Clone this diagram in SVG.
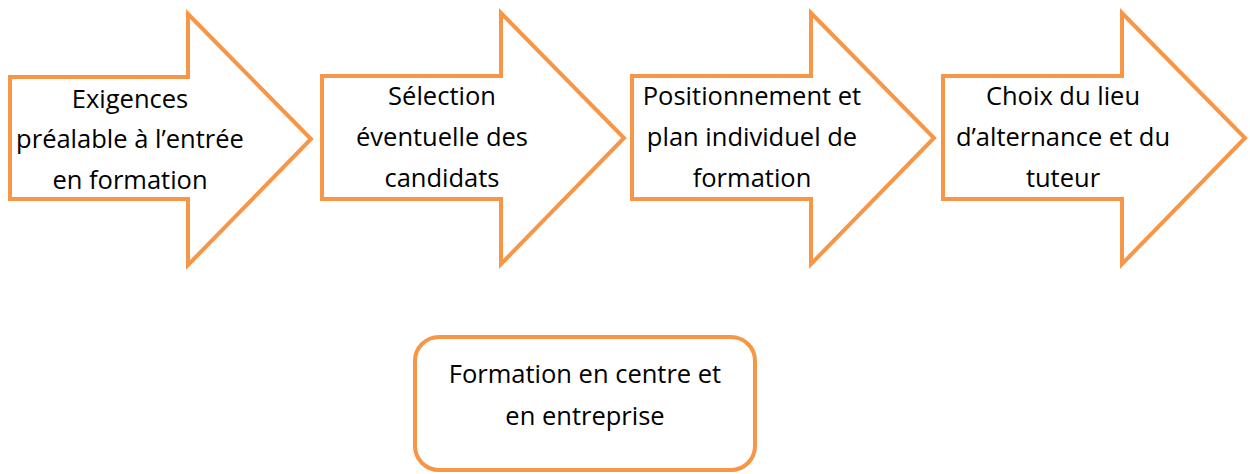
<svg xmlns="http://www.w3.org/2000/svg" width="1250" height="474" viewBox="0 0 1250 474">
<style>
.shape{fill:#ffffff;stroke:#F79646;stroke-width:4;stroke-linejoin:miter}
.t{font-family:"Open Sans","Liberation Sans",sans-serif;font-size:25.5px;fill:#000;text-anchor:middle}
</style>
<rect width="1250" height="474" fill="#ffffff"/>
<g id="connectors"></g>
<g id="n1">
<path class="shape" d="M10,77 H188 V14 L311,139 L188,265 V199 H10 Z"/>
<text class="t" x="130" y="108">Exigences</text>
<text class="t" x="130" y="148">préalable à l’entrée</text>
<text class="t" x="130" y="189">en formation</text>
</g>
<g id="n2">
<path class="shape" d="M322,76 H501 V13 L624,138 L501,264 V199 H322 Z"/>
<text class="t" x="442" y="105">Sélection</text>
<text class="t" x="442" y="146">éventuelle des</text>
<text class="t" x="442" y="187">candidats</text>
</g>
<g id="n3">
<path class="shape" d="M632,76 H811 V13 L934,138 L811,264 V199 H632 Z"/>
<text class="t" x="752" y="105">Positionnement et</text>
<text class="t" x="752" y="146">plan individuel de</text>
<text class="t" x="752" y="187">formation</text>
</g>
<g id="n4">
<path class="shape" d="M943,76 H1122 V13 L1245,138 L1122,264 V199 H943 Z"/>
<text class="t" x="1063" y="105">Choix du lieu</text>
<text class="t" x="1063" y="146">d’alternance et du</text>
<text class="t" x="1063" y="187">tuteur</text>
</g>
<g id="n5">
<rect class="shape" x="415" y="337" width="340" height="133" rx="24" ry="24"/>
<text class="t" x="585" y="383">Formation en centre et</text>
<text class="t" x="585" y="425">en entreprise</text>
</g>
</svg>
